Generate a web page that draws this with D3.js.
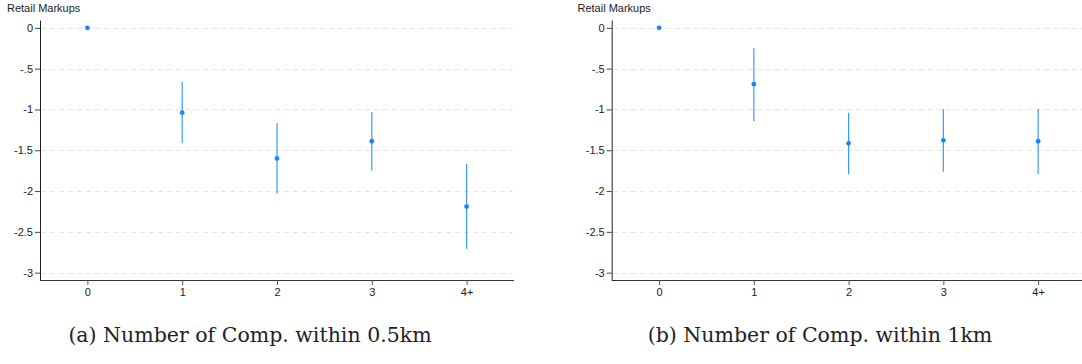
<!DOCTYPE html>
<html>
<head>
<title>Retail Markups by number of competitors</title>
<script src="https://d3js.org/d3.v7.min.js"></script>
<style>
  body { margin: 0; background: #fff; }
  svg text { font-family: "Liberation Sans", Arial, sans-serif; fill: #222; }
  svg text.caption { font-family: "DejaVu Serif", "Liberation Serif", serif; }
</style>
</head>
<body>
<div id="chart"></div>
<script>
// categories on the x axis
var categories = ["0", "1", "2", "3", "4+"];
var yTicks = [0, -0.5, -1, -1.5, -2, -2.5, -3];
var yTickLabels = ["0", "-.5", "-1", "-1.5", "-2", "-2.5", "-3"];

// panel (a): competitors within 0.5km
var coefA = [0, -1.04, -1.60, -1.39, -2.19];
var lowA  = [null, -1.415, -2.03, -1.75, -2.71];
var highA = [null, -0.663, -1.17, -1.035, -1.67];

// panel (b): competitors within 1km
var coefB = [0, -0.69, -1.415, -1.378, -1.39];
var lowB  = [null, -1.145, -1.795, -1.763, -1.79];
var highB = [null, -0.25, -1.04, -0.994, -0.994];

var captions = ["(a) Number of Comp. within 0.5km", "(b) Number of Comp. within 1km"];
var yTitle = "Retail Markups";

var width = 1082, height = 364;
var blue = "#1a85ff";

var svg = d3.select("#chart").append("svg")
    .attr("width", width)
    .attr("height", height);

// panel placement
var panels = [
  {left: 40, right: 514, titleX: 7, captionX: 250, coef: coefA, low: lowA, high: highA, caption: captions[0]},
  {left: 611.7, right: 1085.5, titleX: 577.5, captionX: 820, coef: coefB, low: lowB, high: highB, caption: captions[1]}
];

var plotTop = 20.5, plotBottom = 280;

var y = d3.scaleLinear()
    .domain([-3.09, 0.09])
    .range([plotBottom, plotTop]);

panels.forEach(function(p) {
  var g = svg.append("g");

  var x = d3.scalePoint()
      .domain(categories)
      .range([p.left, p.right])
      .padding(0.5);

  // dashed gridlines
  g.selectAll(".grid")
    .data(yTicks)
    .enter().append("line")
    .attr("x1", p.left + 1)
    .attr("x2", p.right - 1)
    .attr("y1", d => Math.round(y(d)) + 0.5)
    .attr("y2", d => Math.round(y(d)) + 0.5)
    .attr("stroke", "#e6e6e6")
    .attr("stroke-width", 1)
    .attr("stroke-dasharray", "5,4");

  // y axis
  var yAxis = d3.axisLeft(y)
      .tickValues(yTicks)
      .tickFormat((d, i) => yTickLabels[i])
      .tickSize(5)
      .tickPadding(2)
      .tickSizeOuter(0);
  var ya = g.append("g")
      .attr("transform", "translate(" + p.left + ",0)")
      .call(yAxis);
  ya.select(".domain").attr("stroke", "#222").attr("d", "M0.5," + plotTop + "V" + plotBottom);
  ya.selectAll(".tick line").attr("stroke", "#444");
  ya.selectAll("text").style("font-size", "11px").attr("fill", "#222");

  // x axis
  var xAxis = d3.axisBottom(x)
      .tickSize(5)
      .tickPadding(3)
      .tickSizeOuter(0);
  var xa = g.append("g")
      .attr("transform", "translate(0," + plotBottom + ")")
      .call(xAxis);
  xa.select(".domain").attr("stroke", "#333").attr("d", "M" + p.left + ",0.5H" + p.right);
  xa.selectAll(".tick line").attr("stroke", "#555");
  xa.selectAll("text").style("font-size", "11px").attr("fill", "#222");

  // axis title
  g.append("text")
    .attr("x", p.titleX)
    .attr("y", 12)
    .style("font-size", "11px")
    .text(yTitle);

  var rows = categories.map(function(c, i) {
    return {cat: c, coef: p.coef[i], low: p.low[i], high: p.high[i]};
  });

  // confidence intervals
  g.selectAll(".ci")
    .data(rows.filter(d => d.low !== null))
    .enter().append("line")
    .attr("x1", d => x(d.cat))
    .attr("x2", d => x(d.cat))
    .attr("y1", d => y(d.high))
    .attr("y2", d => y(d.low))
    .attr("stroke", blue)
    .attr("stroke-opacity", 0.85)
    .attr("stroke-width", 1.2);

  // point estimates
  g.selectAll(".pt")
    .data(rows)
    .enter().append("circle")
    .attr("cx", d => x(d.cat))
    .attr("cy", d => y(d.coef))
    .attr("r", 2.4)
    .attr("fill", blue);

  // sub-figure caption
  g.append("text")
    .attr("class", "caption")
    .attr("x", p.captionX)
    .attr("y", 342)
    .attr("text-anchor", "middle")
    .style("font-size", "20.5px")
    .text(p.caption);
});
</script>
</body>
</html>
